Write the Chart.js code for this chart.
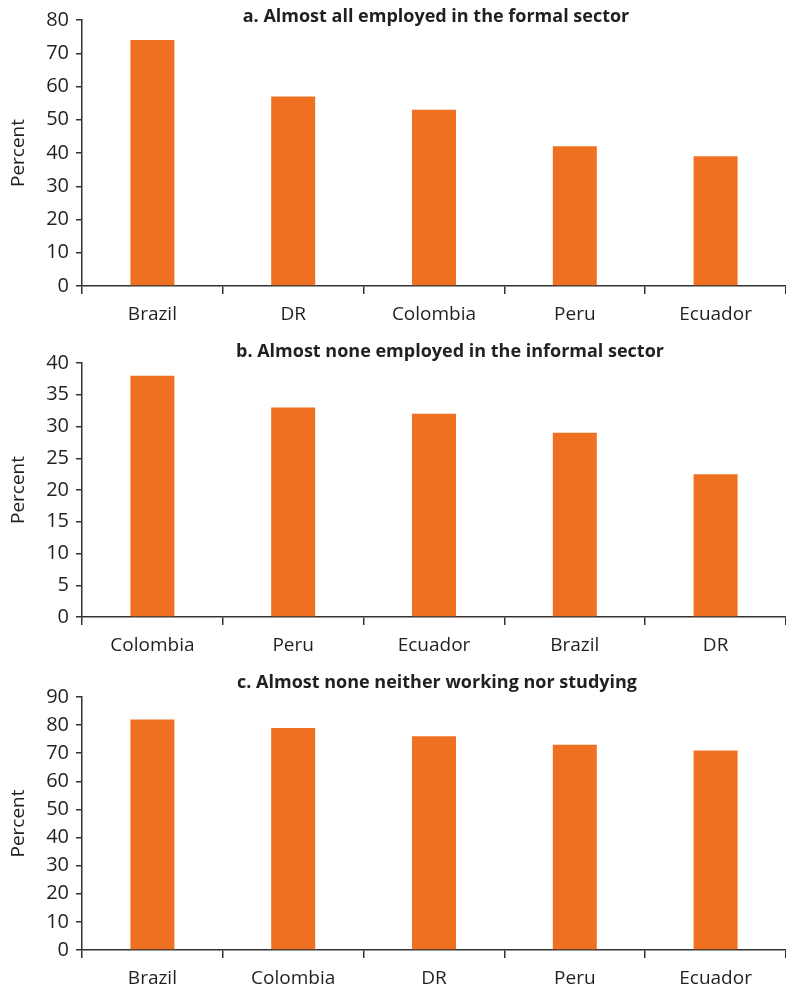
<!DOCTYPE html>
<html>
<head>
<meta charset="utf-8">
<script src="https://cdn.jsdelivr.net/npm/chart.js@4"></script>
<style>
  body { margin: 0; background: #fff; }
  .wrap { position: relative; width: 786px; height: 989px; }
  canvas { position: absolute; left: 0; }
</style>
</head>
<body>
<div class="wrap">
  <canvas id="chartA" width="786" height="330" style="top:0px"></canvas>
  <canvas id="chartB" width="786" height="330" style="top:330px"></canvas>
  <canvas id="chartC" width="786" height="329" style="top:660px"></canvas>
</div>
<script>
// panel a
const titleA = 'a. Almost all employed in the formal sector';
const countriesA = ['Brazil', 'DR', 'Colombia', 'Peru', 'Ecuador'];
const valuesA = [74, 57, 53, 42, 39];

// panel b
const titleB = 'b. Almost none employed in the informal sector';
const countriesB = ['Colombia', 'Peru', 'Ecuador', 'Brazil', 'DR'];
const valuesB = [38, 33, 32, 29, 22.5];

// panel c
const titleC = 'c. Almost none neither working nor studying';
const countriesC = ['Brazil', 'Colombia', 'DR', 'Peru', 'Ecuador'];
const valuesC = [82, 79, 76, 73, 71];

const orange = '#f07022';
const ink = '#231f20';
const axisColor = '#333333';

// draws the bold panel title; it sits level with the top tick label
const panelTitle = {
    id: 'panelTitle',
    afterDraw(chart, args, opts) {
        const ctx = chart.ctx;
        ctx.save();
        ctx.font = 'bold 18px "Open Sans"';
        ctx.fillStyle = ink;
        ctx.textAlign = 'center';
        ctx.textBaseline = 'middle';
        ctx.fillText(opts.text, opts.x, opts.y);
        ctx.restore();
    }
};

function makeChart(id, labels, values, yMax, step, title, layout) {
    const ctx = document.getElementById(id).getContext('2d');
    return new Chart(ctx, {
        type: 'bar',
        data: {
            labels: labels,
            datasets: [{
                data: values,
                backgroundColor: orange,
                borderWidth: 0,
                categoryPercentage: 1,
                barPercentage: 0.3125
            }]
        },
        options: {
            responsive: false,
            animation: false,
            layout: { padding: { top: layout.top, left: 0, right: 0, bottom: 0 } },
            plugins: {
                legend: { display: false },
                tooltip: { enabled: false },
                panelTitle: { text: title, x: layout.titleX, y: layout.titleY }
            },
            scales: {
                x: {
                    grid: {
                        offset: true,
                        drawOnChartArea: false,
                        tickLength: 8,
                        color: axisColor,
                        lineWidth: 1.5
                    },
                    border: { color: axisColor, width: 1.5 },
                    ticks: {
                        color: ink,
                        font: { family: 'Open Sans', size: 19 },
                        padding: 9,
                        maxRotation: 0
                    },
                    afterFit(scale) { scale.height = layout.xHeight; }
                },
                y: {
                    min: 0,
                    max: yMax,
                    ticks: {
                        stepSize: step,
                        color: ink,
                        font: { family: 'Open Sans', size: 20 },
                        padding: 7
                    },
                    grid: {
                        drawOnChartArea: false,
                        tickLength: 6,
                        color: axisColor,
                        lineWidth: 1.5
                    },
                    border: { color: axisColor, width: 1.5 },
                    title: {
                        display: true,
                        text: 'Percent',
                        color: ink,
                        font: { family: 'Open Sans', size: 19 },
                        padding: { top: 7, bottom: 0 }
                    },
                    afterFit(scale) { scale.width = 82; }
                }
            }
        },
        plugins: [panelTitle]
    });
}

makeChart('chartA', countriesA, valuesA, 80, 10, titleA,
    { top: 20, xHeight: 44, titleX: 436, titleY: 17 });
makeChart('chartB', countriesB, valuesB, 40, 5, titleB,
    { top: 33, xHeight: 43, titleX: 450, titleY: 22 });
makeChart('chartC', countriesC, valuesC, 90, 10, titleC,
    { top: 37, xHeight: 39, titleX: 437, titleY: 23 });
</script>
</body>
</html>
